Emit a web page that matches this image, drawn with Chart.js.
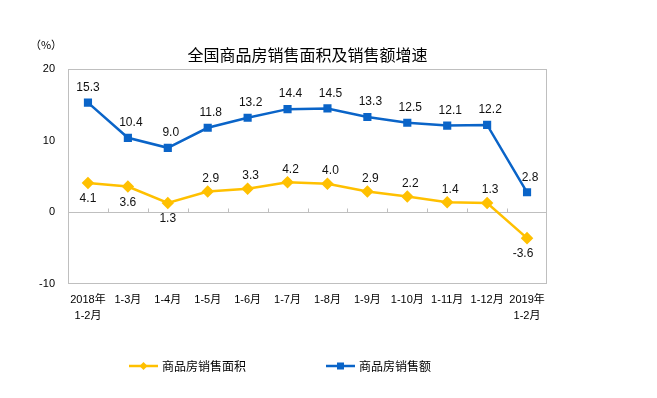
<!DOCTYPE html>
<html>
<head>
<meta charset="utf-8">
<script src="https://cdn.jsdelivr.net/npm/chart.js@4.4.1/dist/chart.umd.min.js"></script>
<style>
  html, body { margin: 0; padding: 0; background: #fff; }
  #wrap { width: 657px; height: 398px; position: relative; }
</style>
</head>
<body>
<div id="wrap"><canvas id="c" width="657" height="398"></canvas></div>
<script>
// ---- data ----
const titleText = '全国商品房销售面积及销售额增速';
const unitText = '（%）';
const categories = [
  ['2018年', '1-2月'], '1-3月', '1-4月', '1-5月', '1-6月', '1-7月',
  '1-8月', '1-9月', '1-10月', '1-11月', '1-12月', ['2019年', '1-2月']
];
const areaName = '商品房销售面积';
const salesName = '商品房销售额';
const areaGrowth = [4.1, 3.6, 1.3, 2.9, 3.3, 4.2, 4.0, 2.9, 2.2, 1.4, 1.3, -3.6];
const salesGrowth = [15.3, 10.4, 9.0, 11.8, 13.2, 14.4, 14.5, 13.3, 12.5, 12.1, 12.2, 2.8];
const yTicks = [-10, 0, 10, 20];

const YELLOW = '#FFC000';
const BLUE = '#0A64C8';
const FRAME = '#BFBFBF';
const FONT = '"Liberation Sans", "Noto Sans CJK SC", Arial, sans-serif';
const CJK = '"Noto Sans CJK SC", "Liberation Sans", sans-serif';

// label placement for the area series: below for some points
const areaBelow = new Set([0, 1, 2, 11]);

const decor = {
  id: 'decor',
  beforeDatasetsDraw(chart) {
    const { ctx, chartArea: a, scales: { x, y } } = chart;
    ctx.save();
    ctx.strokeStyle = FRAME;
    ctx.lineWidth = 1;
    ctx.strokeRect(Math.round(a.left) + 0.5, Math.round(a.top) + 0.5,
      Math.round(a.right - a.left) - 1, Math.round(a.bottom - a.top) - 1);
    const y0 = Math.round(y.getPixelForValue(0)) + 0.5;
    ctx.beginPath();
    ctx.moveTo(a.left, y0);
    ctx.lineTo(a.right, y0);
    const n = categories.length;
    const step = (a.right - a.left) / n;
    for (let k = 1; k < n; k++) {
      const xx = Math.round(a.left + k * step) + 0.5;
      ctx.moveTo(xx, y0);
      ctx.lineTo(xx, y0 - 4);
    }
    ctx.stroke();
    ctx.restore();
  },
  afterDatasetsDraw(chart) {
    const { ctx } = chart;
    ctx.save();
    ctx.font = '12px ' + FONT;
    ctx.fillStyle = '#111';
    ctx.textAlign = 'center';
    ctx.textBaseline = 'middle';
    chart.data.datasets.forEach((ds, di) => {
      const meta = chart.getDatasetMeta(di);
      meta.data.forEach((pt, i) => {
        const v = ds.data[i];
        let dx = 3, dy = -15;
        if (di === 0) {
          if (areaBelow.has(i)) { dy = 16; dx = (i === 11) ? -4 : 0; }
          else { dy = -13; dx = 3; }
        } else if (i === 0) { dx = 0; }
        ctx.fillText(v.toFixed(1), pt.x + dx, pt.y + dy);
      });
    });
    ctx.restore();
  },
  afterDraw(chart) {
    const { ctx, chartArea: a } = chart;
    ctx.save();
    // title
    ctx.fillStyle = '#000';
    ctx.textAlign = 'center';
    ctx.textBaseline = 'middle';
    ctx.font = '16px ' + CJK;
    ctx.fillText(titleText, (a.left + a.right) / 2, 55);
    // unit
    ctx.font = '11px ' + CJK;
    ctx.fillText(unitText, 46, 45);
    // legend
    const items = [
      { name: areaName, color: YELLOW, x: 129, marker: 'diamond' },
      { name: salesName, color: BLUE, x: 326, marker: 'square' }
    ];
    const ly = 366;
    items.forEach(it => {
      ctx.strokeStyle = it.color;
      ctx.fillStyle = it.color;
      ctx.lineWidth = 2.5;
      ctx.beginPath();
      ctx.moveTo(it.x, ly);
      ctx.lineTo(it.x + 29, ly);
      ctx.stroke();
      const cx = it.x + 14.5;
      ctx.beginPath();
      if (it.marker === 'diamond') {
        ctx.moveTo(cx, ly - 4); ctx.lineTo(cx + 4, ly); ctx.lineTo(cx, ly + 4); ctx.lineTo(cx - 4, ly);
        ctx.closePath(); ctx.fill();
      } else {
        ctx.fillRect(cx - 3.5, ly - 3.5, 7, 7);
      }
      ctx.fillStyle = '#000';
      ctx.textAlign = 'left';
      ctx.font = '12px ' + CJK;
      ctx.fillText(it.name, it.x + 33, ly);
    });
    ctx.restore();
  }
};

new Chart(document.getElementById('c'), {
  type: 'line',
  data: {
    labels: categories,
    datasets: [
      {
        label: areaName, data: areaGrowth,
        borderColor: YELLOW, backgroundColor: YELLOW, borderWidth: 2.5,
        pointStyle: 'rectRot', pointRadius: 4.5, pointHoverRadius: 4.5,
        tension: 0, fill: false
      },
      {
        label: salesName, data: salesGrowth,
        borderColor: BLUE, backgroundColor: BLUE, borderWidth: 2.5,
        pointStyle: 'rect', pointRadius: 4, pointHoverRadius: 4,
        tension: 0, fill: false
      }
    ]
  },
  options: {
    responsive: false,
    animation: false,
    events: [],
    layout: { padding: { top: 69, left: 0, right: 110, bottom: 0 } },
    plugins: { legend: { display: false }, title: { display: false }, tooltip: { enabled: false } },
    scales: {
      x: {
        offset: true,
        grid: { display: false, drawTicks: false, tickLength: 0 },
        border: { display: false },
        ticks: {
          color: '#000', padding: 8, maxRotation: 0, autoSkip: false,
          font: { family: FONT, size: 11, lineHeight: 1.45 }
        },
        afterFit(s) { s.height = 114; }
      },
      y: {
        min: -10, max: 20,
        afterBuildTicks(s) { s.ticks = yTicks.map(v => ({ value: v })); },
        grid: { display: false, drawTicks: false, tickLength: 0 },
        border: { display: false },
        ticks: { color: '#000', padding: 13, font: { family: FONT, size: 11 } },
        afterFit(s) { s.width = 68; }
      }
    }
  },
  plugins: [decor]
});
</script>
</body>
</html>
